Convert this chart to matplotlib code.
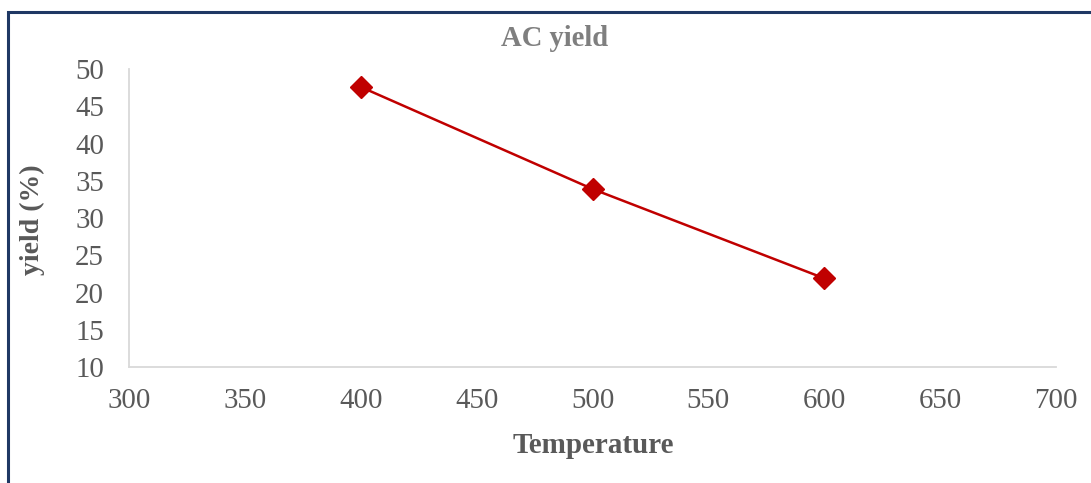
import matplotlib.pyplot as plt
from matplotlib.patches import Rectangle

temperature = [400, 500, 600]
yield_pct = [47.6, 33.9, 21.9]
x_ticks = [300, 350, 400, 450, 500, 550, 600, 650, 700]
y_ticks = [10, 15, 20, 25, 30, 35, 40, 45, 50]

plt.rcParams['font.family'] = ['Liberation Serif', 'DejaVu Serif']

fig = plt.figure(figsize=(10.91, 4.83), dpi=100)
ax = fig.add_axes([0.1182, 0.2402, 0.8498, 0.6168])

ax.plot(temperature, yield_pct, color='#C00000', linewidth=1.8,
        marker='D', markersize=11, markerfacecolor='#C00000',
        markeredgecolor='#C00000', zorder=3)

ax.set_xlim(300, 700)
ax.set_ylim(10, 50)
ax.set_xticks(x_ticks)
ax.set_yticks(y_ticks)
ax.tick_params(axis='both', length=0, labelsize=20.8, colors='#595959')
ax.tick_params(axis='y', pad=18)
ax.tick_params(axis='x', pad=15)

for side in ['top', 'right']:
    ax.spines[side].set_visible(False)
for side in ['left', 'bottom']:
    ax.spines[side].set_color('#d9d9d9')
    ax.spines[side].set_linewidth(1.3)

fig.text(0.5087, 0.921, 'AC yield', ha='center', va='center',
         fontsize=20.6, fontweight='bold', color='#7f7f7f')
fig.text(0.5435, 0.077, 'Temperature', ha='center', va='center',
         fontsize=21, fontweight='bold', color='#595959')
fig.text(0.030, 0.545, 'yield (%)', ha='center', va='center', rotation=90,
         fontsize=20, fontweight='bold', color='#595959')

# outer chart frame, open on the right and bottom edges
fig.patches.append(Rectangle((8 / 1091, -0.05), 1.2, 1 - 12 / 483 + 0.05,
                             transform=fig.transFigure, fill=False,
                             edgecolor='#1f3864', linewidth=2.2))

fig.savefig('out.png', dpi=100)
